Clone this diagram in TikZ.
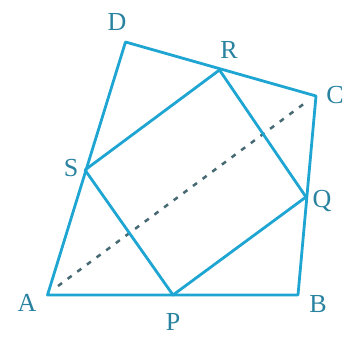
\documentclass[tikz,border=0pt]{standalone}
\usepackage{fontspec}
\setmainfont{Liberation Serif}
\definecolor{edge}{RGB}{30,165,210}
\definecolor{lab}{RGB}{40,130,160}
\definecolor{dash}{RGB}{70,105,115}
\begin{document}
\begin{tikzpicture}[x=1pt,y=-1pt,
  side/.style={draw=edge,line width=2.8pt,line join=round,line cap=round},
  diag/.style={draw=dash,line width=2.5pt,dash pattern=on 5pt off 7pt},
  lbl/.style={text=lab,font=\fontsize{26}{26}\selectfont,inner sep=0pt}]
\useasboundingbox (0,0) rectangle (349,339);
\coordinate (A) at (47.5,295);
\coordinate (B) at (298,295);
\coordinate (C) at (316,96);
\coordinate (D) at (125.5,42);
\coordinate (R) at (219.5,70);
\coordinate (S) at (85,170);
\coordinate (Q) at (306,197);
\coordinate (P) at (173,295);
\coordinate (a1) at (58,286);
\coordinate (c1) at (305,103);
\draw[diag] (a1) -- (c1);
\draw[side] (A) -- (B) -- (C) -- (D) -- cycle;
\draw[side] (P) -- (Q) -- (R) -- (S) -- cycle;
\node[lbl] (lA) at (27,303) {A};
\node[lbl] (lB) at (318,304) {B};
\node[lbl] (lC) at (335,95) {C};
\node[lbl] (lD) at (117,22) {D};
\node[lbl] (lR) at (229,50) {R};
\node[lbl] (lS) at (71,168) {S};
\node[lbl] (lQ) at (322,201) {Q};
\node[lbl] (lP) at (173,322) {P};
\end{tikzpicture}
\end{document}
